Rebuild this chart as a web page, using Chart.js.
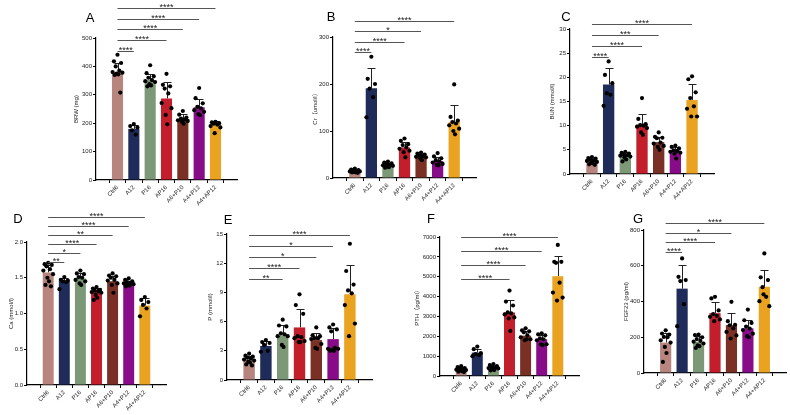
<!DOCTYPE html>
<html>
<head>
<meta charset="utf-8">
<script src="https://cdn.jsdelivr.net/npm/chart.js@4"></script>
<style>
  body { margin: 0; background: #fff; width: 790px; height: 415px; overflow: hidden; position: relative; }
  canvas { position: absolute; }
</style>
</head>
<body>
<canvas id="pA"></canvas>
<canvas id="pB"></canvas>
<canvas id="pC"></canvas>
<canvas id="pD"></canvas>
<canvas id="pE"></canvas>
<canvas id="pF"></canvas>
<canvas id="pG"></canvas>
<script>
// groups shown on every panel
const groups = ['Ctrl6', 'A12', 'P16', 'AP16', 'A6+P10', 'A4+P12', 'A4+AP12'];
const groupColors = ['#b7847e', '#1f2c5a', '#7c9877', '#c21e2c', '#7a3024', '#880c88', '#e9a321'];

// A - BRW (mg)
const brwMean = [380, 180, 352, 287, 215, 256, 197];
const brwSD = [33, 12, 23, 58, 17, 30, 12];
const brwPts = [
  [441, 418, 412, 400, 385, 380, 378, 375, 372, 370, 308],
  [197, 190, 185, 175, 160],
  [404, 376, 365, 360, 352, 348, 345, 338, 333, 330],
  [374, 335, 330, 322, 305, 271, 253, 229, 196],
  [243, 230, 220, 216, 213, 210, 208, 205, 198],
  [324, 288, 270, 258, 252, 246, 240, 232, 228],
  [205, 203, 200, 198, 195, 190, 185, 165]
];
const brwSig = [[1, '****'], [3, '****'], [4, '****'], [5, '****'], [6, '****']];

// B - Cr
const crMean = [15, 191, 28, 65, 46, 36, 119];
const crSD = [3, 44, 4, 12, 5, 8, 36];
const crPts = [
  [20, 18, 17, 16, 15, 14, 14, 13, 12, 12, 11],
  [258, 211, 200, 190, 172, 129],
  [35, 33, 31, 30, 28, 27, 26, 25, 23, 22],
  [84, 79, 72, 70, 65, 62, 58, 55, 44],
  [54, 52, 50, 48, 47, 45, 44, 42, 38],
  [53, 46, 42, 38, 35, 33, 30, 28, 27],
  [199, 130, 122, 119, 116, 112, 105, 100, 93]
];
const crSig = [[1, '****'], [3, '****'], [4, '*'], [6, '****']];

// C - BUN
const bunMean = [2.7, 18.5, 3.9, 10.2, 6.6, 4.8, 15.3];
const bunSD = [0.5, 3.4, 0.6, 2.2, 1.1, 0.8, 3.3];
const bunPts = [
  [3.5, 3.3, 3.2, 3.0, 2.8, 2.7, 2.5, 2.4, 2.2, 2.0, 1.9],
  [23.3, 20.5, 18.8, 16.7, 16.4, 14.1],
  [4.6, 4.4, 4.2, 4.0, 3.9, 3.8, 3.6, 3.4, 3.0, 2.6],
  [15.7, 11.4, 10.3, 10.1, 10.0, 9.8, 9.5, 8.6, 8.1],
  [8.6, 7.7, 7.5, 7.4, 6.5, 6.3, 5.8, 5.6, 5.0],
  [5.9, 5.6, 5.3, 4.9, 4.8, 4.6, 4.4, 4.2, 3.2],
  [20.2, 19.6, 16.9, 15.7, 14.0, 13.5, 11.9, 11.9]
];
const bunSig = [[1, '****'], [3, '****'], [4, '***'], [6, '****']];

// D - Ca
const caMean = [1.575, 1.45, 1.49, 1.31, 1.45, 1.42, 1.11];
const caSD = [0.11, 0.05, 0.07, 0.05, 0.08, 0.04, 0.1];
const caPts = [
  [1.71, 1.69, 1.68, 1.66, 1.62, 1.60, 1.55, 1.50, 1.45, 1.40, 1.38],
  [1.51, 1.47, 1.46, 1.45, 1.44, 1.34],
  [1.60, 1.56, 1.55, 1.51, 1.50, 1.47, 1.45, 1.42, 1.40],
  [1.37, 1.35, 1.33, 1.32, 1.31, 1.30, 1.29, 1.26, 1.22, 1.19],
  [1.56, 1.53, 1.52, 1.50, 1.47, 1.46, 1.42, 1.40, 1.29],
  [1.49, 1.47, 1.45, 1.44, 1.43, 1.42, 1.41, 1.40, 1.39, 1.38],
  [1.23, 1.19, 1.16, 1.12, 1.07, 0.96]
];
const caSig = [[1, '**'], [2, '*'], [3, '****'], [4, '**'], [5, '****'], [6, '****']];

// E - P
const pMean = [2.1, 3.5, 4.6, 5.4, 4.1, 4.2, 8.8];
const pSD = [0.4, 0.5, 1.1, 1.9, 0.7, 1.1, 3.0];
const pPts = [
  [2.7, 2.5, 2.4, 2.3, 2.2, 2.1, 2.0, 1.9, 1.8, 1.6, 1.5],
  [4.1, 3.9, 3.8, 3.6, 3.0, 2.9],
  [6.2, 5.6, 5.5, 4.8, 4.7, 4.5, 4.5, 3.6, 3.4],
  [8.8, 7.7, 6.8, 4.5, 4.4, 4.3, 4.0, 3.9, 3.9],
  [5.4, 4.6, 4.5, 4.3, 4.3, 4.2, 3.7, 3.3, 3.2],
  [5.7, 5.4, 5.2, 5.0, 3.3, 3.2, 3.2, 3.1, 3.0, 3.0],
  [14.0, 11.2, 9.8, 9.2, 8.9, 7.7, 5.8, 4.5]
];
const pSig = [[2, '**'], [3, '****'], [4, '*'], [5, '*'], [6, '****']];

// F - PTH
const pthMean = [330, 1180, 420, 3200, 2030, 1850, 5020];
const pthSD = [80, 200, 100, 640, 220, 200, 1040];
const pthPts = [
  [500, 450, 400, 380, 350, 320, 300, 280, 250, 220, 200],
  [1480, 1350, 1150, 1100, 1050, 1000],
  [600, 550, 500, 450, 420, 400, 380, 350, 300, 280],
  [4300, 3750, 3550, 3200, 3150, 3100, 2950, 2900, 2270],
  [2400, 2300, 2250, 2200, 2050, 1950, 1850, 1800, 1850],
  [2150, 2100, 2050, 1900, 1850, 1800, 1600, 1600, 1550],
  [6600, 5750, 5750, 5700, 4700, 4200, 3950, 3800]
];
const pthSig = [[3, '****'], [4, '****'], [5, '****'], [6, '****']];

// G - FGF23
const fgfMean = [170, 472, 175, 335, 268, 250, 482];
const fgfSD = [52, 132, 30, 63, 65, 48, 97];
const fgfPts = [
  [239, 221, 215, 202, 200, 183, 170, 146, 112, 62],
  [641, 538, 520, 514, 385, 262],
  [215, 212, 200, 190, 180, 175, 165, 155, 150, 140],
  [426, 417, 350, 330, 320, 314, 300, 290],
  [398, 290, 270, 267, 250, 230, 210, 193],
  [355, 295, 280, 260, 249, 240, 220, 206, 200],
  [669, 535, 520, 480, 426, 402, 374, 440]
];
const fgfSig = [[1, '****'], [3, '****'], [4, '*'], [6, '****']];

// horizontal spread of the dots inside a bar
const spread = [0, -0.22, 0.22, -0.11, 0.11, -0.3, 0.3, -0.05, 0.05, -0.17, 0.17];

Chart.defaults.font.family = '"Liberation Sans", Arial, "Noto Sans CJK SC", sans-serif';

const panels = [
  { id: 'pA', letter: 'A', title: 'BRW (mg)', mean: brwMean, sd: brwSD, pts: brwPts, sig: brwSig,
    yMax: 500, yStep: 100, row: 0, L: 96, T: 38, R: 238, B: 180, axisW: 23, brBase: 13, brStep: 10.8, lx: 90, ly: 18 },
  { id: 'pB', letter: 'B', title: 'Cr（umol/l）', mean: crMean, sd: crSD, pts: crPts, sig: crSig,
    yMax: 300, yStep: 100, row: 0, L: 333, T: 37, R: 477, B: 178, axisW: 21, brBase: 15, brStep: 10.3, lx: 331, ly: 17 },
  { id: 'pC', letter: 'C', title: 'BUN (mmol/l)', mean: bunMean, sd: bunSD, pts: bunPts, sig: bunSig,
    yMax: 30, yStep: 5, row: 0, L: 570, T: 29, R: 715, B: 174, axisW: 21, brBase: 28, brStep: 11, lx: 566, ly: 17 },
  { id: 'pD', letter: 'D', title: 'Ca (mmol/l)', mean: caMean, sd: caSD, pts: caPts, sig: caSig, dec: 1,
    yMax: 2, yStep: 0.5, row: 1, L: 27, T: 242, R: 167, B: 385, axisW: 19, brBase: 20, brStep: 9, lx: 18, ly: 219 },
  { id: 'pE', letter: 'E', title: 'P (mmol/l)', mean: pMean, sd: pSD, pts: pPts, sig: pSig,
    yMax: 15, yStep: 3, row: 1, L: 227, T: 234, R: 373, B: 380, axisW: 20, brBase: 45, brStep: 11, lx: 228, ly: 220 },
  { id: 'pF', letter: 'F', title: 'PTH（pg/ml）', mean: pthMean, sd: pthSD, pts: pthPts, sig: pthSig,
    yMax: 7000, yStep: 1000, row: 1, L: 440, T: 237, R: 580, B: 376, axisW: 26, brBase: 42, brStep: 14, lx: 431, ly: 219 },
  { id: 'pG', letter: 'G', title: 'FGF23 (pg/ml)', mean: fgfMean, sd: fgfSD, pts: fgfPts, sig: fgfSig,
    yMax: 800, yStep: 200, row: 1, L: 644, T: 230, R: 787, B: 373, axisW: 21, brBase: 22, brStep: 9.7, lx: 638, ly: 219 }
];

const xAxisH = 32;

function makePanel(p) {
  const cv = document.getElementById(p.id);
  const rowTop = p.row === 0 ? 0 : 205;
  const cl = p.L - p.axisW;
  const w = p.R - cl + 3;
  const h = p.B + xAxisH - rowTop;
  cv.width = w; cv.height = h;
  cv.style.left = cl + 'px'; cv.style.top = rowTop + 'px';
  cv.style.width = w + 'px'; cv.style.height = h + 'px';

  const dots = [];
  p.pts.forEach((arr, i) => arr.forEach((v, k) => dots.push({ x: i + spread[k % spread.length], y: v })));

  const extras = {
    id: 'extras' + p.id,
    beforeDatasetsDraw(chart) {
      const { ctx, scales: { x, y } } = chart;
      ctx.save();
      ctx.strokeStyle = '#222';
      ctx.lineWidth = 1;
      p.mean.forEach((m, i) => {
        const px = Math.round(x.getPixelForValue(i)) + 0.5;
        const top = Math.round(y.getPixelForValue(m + p.sd[i])) + 0.5;
        const base = y.getPixelForValue(m);
        ctx.beginPath();
        ctx.moveTo(px, base); ctx.lineTo(px, top);
        ctx.moveTo(px - 4, top); ctx.lineTo(px + 4, top);
        ctx.stroke();
      });
      ctx.restore();
    },
    afterDraw(chart) {
      const { ctx, chartArea, scales: { x } } = chart;
      ctx.save();
      ctx.font = '9px "Liberation Sans", Arial';
      ctx.textAlign = 'center';
      ctx.textBaseline = 'alphabetic';
      ctx.fillStyle = '#222';
      p.sig.forEach(([to, label], k) => {
        const yy = Math.round(chartArea.top + p.brBase - k * p.brStep) + 0.5;
        const x0 = x.getPixelForValue(0), x1 = x.getPixelForValue(to);
        ctx.strokeStyle = '#555';
        ctx.lineWidth = 1;
        ctx.beginPath(); ctx.moveTo(x0, yy); ctx.lineTo(x1, yy); ctx.stroke();
        ctx.fillText(label, (x0 + x1) / 2, yy + 1.5);
      });
      ctx.font = '13px "Liberation Sans", Arial';
      ctx.textBaseline = 'middle';
      ctx.fillStyle = '#000';
      ctx.fillText(p.letter, p.lx - cl, p.ly - rowTop);
      ctx.restore();
    }
  };

  new Chart(cv, {
    type: 'bar',
    data: {
      datasets: [
        { type: 'scatter', data: dots, pointRadius: 2.1, pointBackgroundColor: '#000', pointBorderWidth: 0, order: 0 },
        { type: 'bar', data: p.mean.map((m, i) => ({ x: i, y: m })), backgroundColor: groupColors,
          barPercentage: 0.85, categoryPercentage: 0.8, order: 1 }
      ]
    },
    options: {
      responsive: false,
      animation: false,
      devicePixelRatio: 1,
      layout: { padding: { top: p.T - rowTop, right: 3, left: 0, bottom: 0 } },
      plugins: { legend: { display: false }, tooltip: { enabled: false } },
      scales: {
        x: {
          type: 'linear', min: -0.7, max: 6.7,
          afterBuildTicks: s => { s.ticks = groups.map((g, i) => ({ value: i })); },
          afterFit: s => { s.height = xAxisH; },
          ticks: { callback: v => groups[v], minRotation: 45, maxRotation: 45, autoSkip: false,
                   font: { size: 6 }, color: '#222', padding: 1 },
          grid: { drawOnChartArea: false, tickLength: 3, color: '#000' },
          border: { color: '#000', width: 1.2 }
        },
        y: {
          min: 0, max: p.yMax,
          afterFit: s => { s.width = p.axisW; },
          ticks: { stepSize: p.yStep, font: { size: 6 }, color: '#222', padding: 1,
                   callback: v => p.dec ? v.toFixed(p.dec) : v },
          title: { display: true, text: p.title, font: { size: 6 }, color: '#222', padding: 0 },
          grid: { drawOnChartArea: false, tickLength: 3, color: '#000' },
          border: { color: '#000', width: 1.2 }
        }
      }
    },
    plugins: [extras]
  });
}

panels.forEach(makePanel);
</script>
</body>
</html>
